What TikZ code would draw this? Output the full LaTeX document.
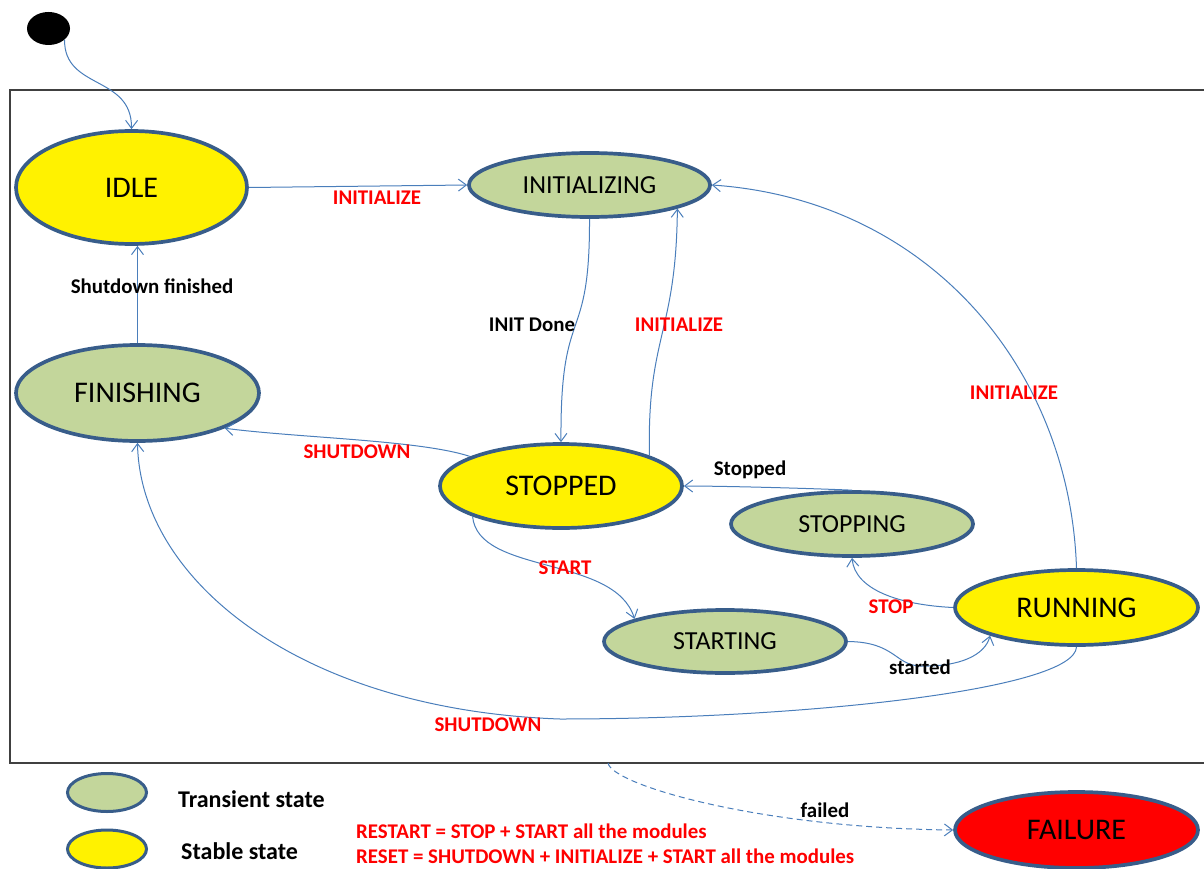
\documentclass[tikz,border=0pt]{standalone}
\usepackage{fontspec}
\setmainfont{Carlito}
\usetikzlibrary{shapes.geometric,arrows.meta}
\definecolor{edgeblue}{RGB}{74,126,187}
\definecolor{rimblue}{RGB}{56,93,138}
\definecolor{transfill}{RGB}{195,214,155}
\begin{document}
\begin{tikzpicture}[x=1pt,y=-1pt,
  state/.style={ellipse, draw=rimblue, line width=3.7pt, inner sep=0pt,
                font=\fontsize{30}{36}\selectfont},
  transient/.style={state, fill=transfill, font=\fontsize{26}{31}\selectfont},
  stable/.style={state, fill=yellow},
  conn/.style={draw=edgeblue, line width=1pt,
               -{Straight Barb[length=8pt,width=12pt]}},
  lbl/.style={font=\bfseries\fontsize{20.9}{24}\selectfont, inner sep=0pt},
  redlbl/.style={lbl, text=red},
  legendtext/.style={font=\bfseries\fontsize{24}{28}\selectfont, inner sep=0pt, anchor=west},
]
\useasboundingbox (0,0) rectangle (1204,869);

% frame around the operating states (open on the right)
\draw[black!75, line width=1.3pt] (1210,90) -- (10,90) -- (10,763) -- (1210,763);

% initial pseudo-state
\node[ellipse, fill=black, minimum width=43pt, minimum height=33pt, inner sep=0pt] (init) at (48.5,28.5) {};

% states
\node[stable, minimum width=231pt, minimum height=113pt] (idle) at (131.5,187.5) {IDLE};
\node[transient, minimum width=241pt, minimum height=64pt] (initg) at (589.5,185) {INITIALIZING};
\node[transient, font=\fontsize{30}{36}\selectfont, minimum width=243pt, minimum height=96pt] (fin) at (137.5,393) {FINISHING};
\node[stable, minimum width=242pt, minimum height=84pt] (stopd) at (561,486) {STOPPED};
\node[transient, minimum width=242pt, minimum height=64pt] (stopg) at (852,524) {STOPPING};
\node[transient, minimum width=242pt, minimum height=63pt] (startg) at (725,641.5) {STARTING};
\node[stable, minimum width=243pt, minimum height=75pt] (run) at (1076.5,607.5) {RUNNING};
\node[state, fill=red, minimum width=243pt, minimum height=76pt] (fail) at (1076.5,830) {FAILURE};

% transitions
\draw[conn] (init.-35) .. controls (64,90) and (132,75) .. (idle.north);
\draw[conn] (idle.east) -- (initg.west);
\draw[conn] (fin.north) -- (fin.north |- idle.south);
\draw[conn] (initg.south) .. controls (590,350) and (560,300) .. (stopd.north);
\draw[conn] (stopd.19) .. controls (647,335) and (676,335) .. (initg.-15);
\draw[conn] (run.north) .. controls (1070,370) and (930,200) .. (initg.east);
\draw[conn] (stopd.162) .. controls (420,440) and (300,438) .. (fin.-22);
\draw[conn] (stopg.north) .. controls (800,488) and (720,486) .. (stopd.east);
\draw[conn] (stopd.199) .. controls (478,575) and (615,555) .. (startg.166);
\draw[conn] (startg.east) .. controls (895,642) and (895,665) .. (920,666)
            .. controls (960,667) and (985,655) .. (run.198);
\draw[conn] (run.west) .. controls (900,605) and (855,590) .. (stopg.south);
\draw[conn] (run.south) .. controls (1075,690) and (800,719) .. (560,719)
            .. controls (300,710) and (140,580) .. (fin.south);
\coordinate (failsrc) at (608,763);
\draw[conn, dash pattern=on 6pt off 4pt] (failsrc) .. controls (612,785) and (760,828) .. (fail.west);

% transition labels
\node[redlbl] (l1) at (377,198) {INITIALIZE};
\node[lbl] (l2) at (152,286) {Shutdown finished};
\node[lbl] (l3) at (532,325) {INIT Done};
\node[redlbl] (l4) at (679,325) {INITIALIZE};
\node[redlbl] (l5) at (1014,393) {INITIALIZE};
\node[redlbl] (l6) at (357,452) {SHUTDOWN};
\node[lbl] (l7) at (750,470) {Stopped};
\node[redlbl] (l8) at (565,568) {START};
\node[redlbl] (l9) at (891,607) {STOP};
\node[lbl] (l10) at (920,667) {started};
\node[redlbl] (l11) at (488,725) {SHUTDOWN};
\node[lbl] (l12) at (825,810) {failed};

% legend
\node[transient, line width=3pt, minimum width=79pt, minimum height=38pt] (legT) at (107,792.5) {};
\node[stable, line width=3pt, minimum width=79pt, minimum height=38pt] (legS) at (107,849) {};
\node[legendtext] (legTt) at (178,799) {Transient state};
\node[legendtext] (legSt) at (181,851) {Stable state};
\node[redlbl, anchor=west] (note1) at (356,831) {RESTART = STOP + START all the modules};
\node[redlbl, anchor=west] (note2) at (356,856) {RESET = SHUTDOWN + INITIALIZE + START all the modules};
\end{tikzpicture}
\end{document}
